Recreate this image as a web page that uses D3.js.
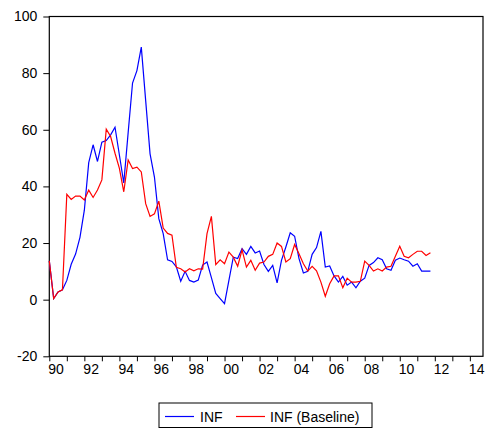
<!DOCTYPE html>
<html>
<head>
<meta charset="utf-8">
<script src="https://cdn.jsdelivr.net/npm/d3@7"></script>
<style>
  html, body { margin: 0; padding: 0; background: #fff; }
  svg { display: block; }
  text { font-family: "Liberation Sans", Arial, sans-serif; fill: #000; }
</style>
</head>
<body>
<svg id="chart" width="488" height="429"></svg>
<script>
// Quarterly inflation, 1990Q1 onward
const startYear = 1990;
const inf = [
  13.7, 0.4, 2.7, 3.5, 6.8, 12.5, 16.1, 22.0, 31.6, 48.4, 54.7, 48.8,
  55.6, 56.2, 58.2, 60.9, 51.1, 41.2, 59.0, 76.5, 80.9, 89.2, 70.3, 51.5,
  43.3, 28.6, 23.3, 14.1, 13.5, 11.6, 6.5, 10.0, 6.8, 6.2, 6.9, 12.2,
  13.3, 7.8, 2.2, 0.4, -1.4, 6.8, 15.0, 14.5, 18.0, 16.0, 18.8, 16.5,
  17.2, 12.4, 10.0, 12.1, 5.9, 13.9, 18.6, 23.6, 22.4, 14.5, 9.4, 10.0,
  16.0, 18.4, 24.1, 11.5, 11.9, 8.4, 6.2, 8.2, 5.1, 6.2, 4.2, 6.5,
  7.6, 12.1, 13.1, 14.8, 14.1, 10.9, 10.4, 13.9, 14.7, 14.1, 13.6, 11.8,
  12.7, 10.1, 10.1, 10.1
];
const infBaseline = [
  13.7, 0.4, 2.7, 3.5, 37.2, 35.4, 36.6, 36.6, 35.2, 38.7, 36.1, 38.7,
  42.3, 60.2, 57.6, 51.7, 46.4, 38.1, 49.3, 46.3, 46.8, 45.1, 33.9, 29.4,
  30.3, 34.8, 25.3, 23.4, 22.8, 11.4, 10.9, 9.8, 10.9, 10.2, 10.9, 10.8,
  23.3, 29.4, 12.4, 14.1, 12.7, 16.8, 15.0, 11.8, 17.6, 11.5, 13.9, 10.4,
  12.9, 13.3, 15.3, 16.0, 20.0, 18.8, 13.3, 14.5, 19.5, 16.2, 12.7, 10.1,
  11.8, 10.2, 6.2, 1.2, 5.6, 8.4, 8.4, 4.2, 7.6, 6.2, 6.2, 6.5,
  13.6, 12.1, 10.1, 10.9, 10.1, 11.5, 11.8, 15.3, 18.9, 15.3, 14.8, 16.0,
  17.1, 17.1, 15.6, 16.6
];
const yearLabels = ["90", "92", "94", "96", "98", "00", "02", "04", "06", "08", "10", "12", "14"];
const yTicks = [-20, 0, 20, 40, 60, 80, 100];
const seriesNames = ["INF", "INF (Baseline)"];
const seriesColors = ["#0000ff", "#ff0000"];

// quarter index 0 = 1990Q1, last index = 2014Q4
const nQuarters = (2014 - startYear + 1) * 4;

const svg = d3.select("#chart");
const plotL = 49.3, plotR = 483, plotT = 16.5, plotB = 356.3;

const x = d3.scaleLinear().domain([0, nQuarters - 1]).range([plotL, plotR]);
const y = d3.scaleLinear().domain([-20, 100]).range([plotB, plotT]);

// frame
svg.append("rect")
  .attr("x", plotL).attr("y", plotT)
  .attr("width", plotR - plotL).attr("height", plotB - plotT)
  .attr("fill", "none").attr("stroke", "#000").attr("stroke-width", 1.2);

// y axis (plain hyphen for negatives)
const yAxis = d3.axisLeft(y).tickValues(yTicks).tickSize(6).tickPadding(6).tickSizeOuter(0)
  .tickFormat(d => String(d));
const gy = svg.append("g").attr("transform", `translate(${plotL},0)`).call(yAxis);
gy.select(".domain").remove();
gy.selectAll("line").attr("stroke", "#000");
gy.selectAll("text").style("font-size", "14px").style("font-family", "Liberation Sans, Arial, sans-serif");

// x axis: a tick every year, label every second year
const yearTicks = d3.range(0, nQuarters, 4);
const xAxis = d3.axisBottom(x).tickValues(yearTicks).tickSize(5).tickSizeOuter(0)
  .tickFormat((d, i) => i % 2 === 0 ? yearLabels[i / 2] : "");
const gx = svg.append("g").attr("transform", `translate(0,${plotB})`).call(xAxis);
gx.select(".domain").remove();
gx.selectAll("line").attr("stroke", "#000");
gx.selectAll("text")
  .style("font-size", "14px").style("font-family", "Liberation Sans, Arial, sans-serif")
  .attr("text-anchor", "start").attr("dx", -1.5).attr("y", 8);

// series lines
const line = d3.line().x((d, i) => x(i)).y(d => y(d));
[inf, infBaseline].forEach((s, k) => {
  svg.append("path")
    .datum(s)
    .attr("d", line)
    .attr("fill", "none")
    .attr("stroke", seriesColors[k])
    .attr("stroke-width", 1.2)
    .attr("stroke-linejoin", "miter");
});

// legend
const lg = svg.append("g");
lg.append("rect").attr("x", 159).attr("y", 403).attr("width", 213).attr("height", 24.5)
  .attr("fill", "#fff").attr("stroke", "#000").attr("stroke-width", 1);
const legendItems = [
  { lx: 165, tx: 200 },
  { lx: 236, tx: 270 }
];
legendItems.forEach((it, k) => {
  lg.append("line").attr("x1", it.lx).attr("x2", it.lx + 29)
    .attr("y1", 416.5).attr("y2", 416.5)
    .attr("stroke", seriesColors[k]).attr("stroke-width", 1.2);
  lg.append("text").attr("x", it.tx).attr("y", 421.5)
    .style("font-size", "14px").text(seriesNames[k]);
});
</script>
</body>
</html>
